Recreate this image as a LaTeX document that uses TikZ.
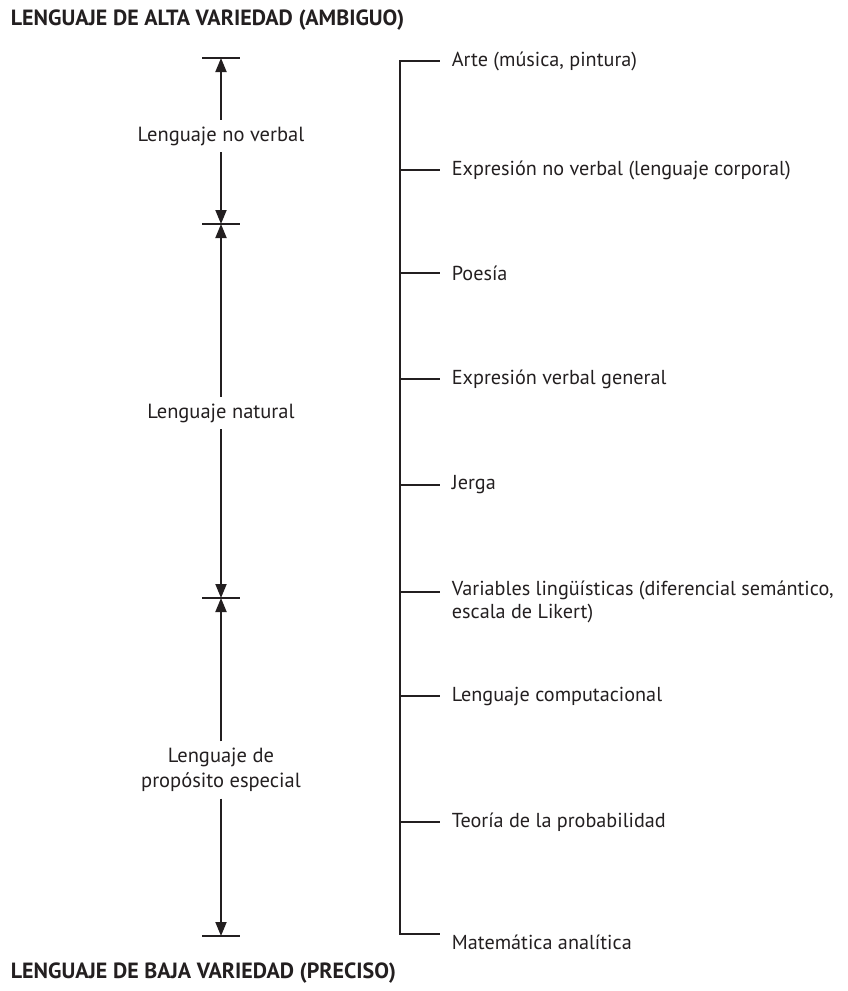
\documentclass[tikz,border=0pt]{standalone}
\usepackage{fontspec}
\setmainfont{PT Sans}
\usetikzlibrary{arrows.meta}
\definecolor{ink}{HTML}{231F20}
\begin{document}
\begin{tikzpicture}[x=1pt,y=-1pt,
  line width=1.8pt, color=ink,
  lbl/.style={font=\fontsize{20.5}{25}\selectfont, inner xsep=0pt, inner ysep=6pt, align=center},
  item/.style={font=\fontsize{20.2}{23}\selectfont, inner sep=0pt, anchor=west, align=left},
  ttl/.style={font=\bfseries\fontsize{22}{24}\selectfont, inner sep=0pt, anchor=base west},
  dim/.style={-{Triangle[length=14pt,width=11pt]}},
  bar/.style={line width=1.8pt}]
\useasboundingbox (0,0) rectangle (848,991);

% titles
\node[ttl] (top) at (10,25) {LENGUAJE DE ALTA VARIEDAD (AMBIGUO)};
\node[ttl] (bot) at (10,978) {LENGUAJE DE BAJA VARIEDAD (PRECISO)};

% left scale: limit bars
\foreach \n/\y in {b0/58,b1/224,b2/598,b3/936}{
  \coordinate (\n) at (221,\y);
  \draw[bar] (202,\y) -- (240,\y);
}

% left scale: labels
\node[lbl] (l1) at (221,136) {Lenguaje no verbal};
\node[lbl] (l2) at (221,413) {Lenguaje natural};
\node[lbl] (l3) at (221,770) {Lenguaje de\\propósito especial};

% left scale: dimension arrows
\draw[dim] (l1.north) -- (b0);
\draw[dim] (l1.south) -- (b1);
\draw[dim] (l2.north) -- (b1);
\draw[dim] (l2.south) -- (b2);
\draw[dim] (l3.north) -- (b2);
\draw[dim] (l3.south) -- (b3);

% right scale: spine
\coordinate (s0) at (400,61);
\coordinate (s1) at (400,934);
\draw[bar, line cap=rect] (s0) -- (s1);

% right scale: ticks and entries
\foreach \n/\y/\t in {
  r1/61/{Arte (música, pintura)},
  r2/170/{Expresión no verbal (lenguaje corporal)},
  r3/273/{Poesía},
  r4/379/{Expresión verbal general},
  r5/485/{Jerga},
  r7/696/{Lenguaje computacional},
  r8/822/{Teoría de la probabilidad}}{
  \coordinate (t\n) at (400,\y);
  \node[item] (\n) at (451,\y) {\t};
  \draw[bar] (t\n) -- (440,\y);
}
\coordinate (tr6) at (400,592);
\node[item, anchor=north west] (r6) at (451,580) {Variables lingüísticas (diferencial semántico,\\escala de Likert)};
\draw[bar] (tr6) -- (440,592);
\coordinate (tr9) at (400,934);
\node[item] (r9) at (451,942) {Matemática analítica};
\draw[bar] (tr9) -- (440,934);
\end{tikzpicture}
\end{document}
